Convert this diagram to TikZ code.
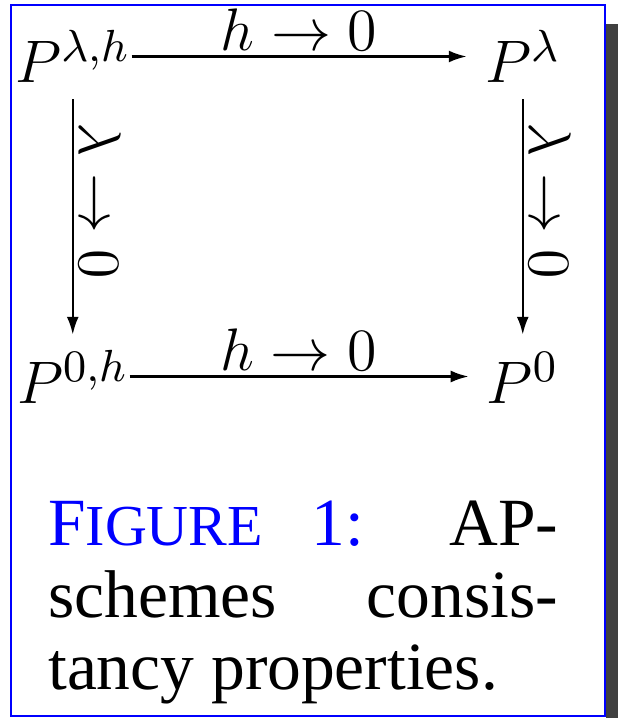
\documentclass[tikz,border=0pt]{standalone}
\usepackage[no-math]{fontspec}
\newfontfamily\capfont{Liberation Serif}
\DeclareMathSizes{12}{12}{9}{7}
\usetikzlibrary{arrows.meta}

\begin{document}
\begin{tikzpicture}[x=0.2pt, y=-0.2pt, node distance=64pt, line width=0.5pt,
        >={Latex[length=3.6pt, width=2.4pt]},
        obj/.style={inner sep=0pt, text height=10.6pt, text depth=0pt, font=\fontsize{12}{14}\selectfont},
        lbl/.style={inner sep=1pt, font=\fontsize{12}{14}\selectfont}]
        \useasboundingbox (0,0) rectangle (618,718);
        % frame and its shadow
        \fill[black!75] (606,24) rectangle (618,718);
        \draw[blue, line width=0.45pt] (11,5) rectangle (605,716);

        \node (plh) [obj, anchor=base west] at (14,83) {$P^{\lambda,h}$};
        \node (pl) [obj, right of=plh, node distance=90pt] {$P^{\lambda}$};
        \node (pzh) [obj, below of=plh] {$P^{0,h}$};
        \node (pz) [obj, below of=pl] {$P^{0}$};

        \draw[->, shorten >=3.4pt] (plh) -- node[lbl, pos=0.475, above] {$h\to 0$} (pl);
        \draw[->, shorten >=3.4pt] (pzh) -- node[lbl, pos=0.475, above] {$h\to 0$} (pz);
        \draw[->, shorten <=3pt, shorten >=2.8pt] (plh) -- node[lbl, pos=0.44, sloped, above] {$\lambda\to 0$} (pzh);
        \draw[->, shorten <=3pt, shorten >=2.8pt] (pl) -- node[lbl, pos=0.44, sloped, above] {$\lambda\to 0$} (pz);

        \node (cap) [anchor=base west, inner sep=0pt, text width=102pt, align=justify,
            font=\capfont\fontsize{13.5}{14.4}\selectfont] at (47,545)
            {{\color{blue}F{\fontsize{11.6}{12}\selectfont IGURE} 1:} AP-\linebreak schemes consis-\linebreak tancy properties.};
\end{tikzpicture}
\end{document}
